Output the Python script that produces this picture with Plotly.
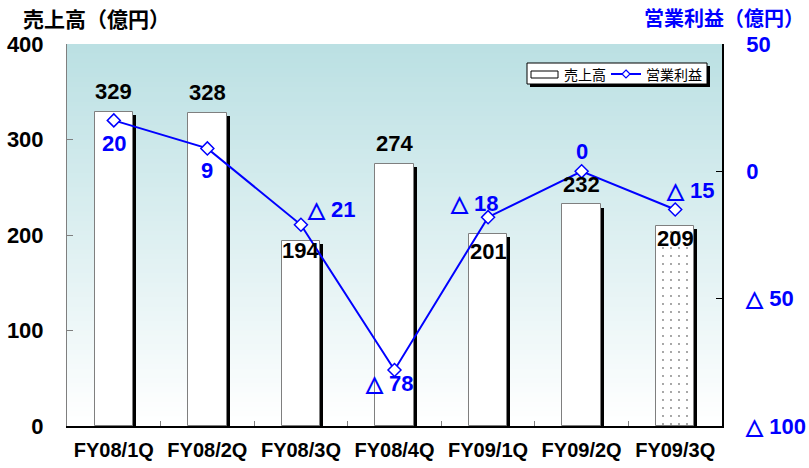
import plotly.graph_objects as go

categories = ["FY08/1Q", "FY08/2Q", "FY08/3Q", "FY08/4Q", "FY09/1Q", "FY09/2Q", "FY09/3Q"]
sales = [329, 328, 194, 274, 201, 232, 209]
op_profit = [20, 9, -21, -78, -18, 0, -15]
left_ticks = [0, 100, 200, 300, 400]
right_ticks = [50, 0, -50, -100]

def tri(v):
    return f"△ {abs(v)}" if v < 0 else f"{v}"

# style/layout constants
W, H = 809, 468
L, R, T, B = 67, 87, 44, 42
PW, PH = W - L - R, H - T - B
JP = "Noto Sans CJK JP"
AR = "Liberation Sans, Arial, sans-serif"
BLUE = "#0000FF"

def px(x):
    return (x - L) / PW

def py(y):
    return (H - B - y) / PH

bar_w = 0.41
shadow_dx = 3 / (PW / len(categories))

fig = go.Figure()

# bar shadows
fig.add_trace(go.Bar(
    x=categories, y=sales, base=-3.2, width=bar_w, offset=-bar_w / 2 + shadow_dx,
    marker=dict(color="black", line=dict(width=0)), hoverinfo="skip", showlegend=False,
))
# bars
fig.add_trace(go.Bar(
    x=categories, y=sales, width=bar_w, offset=-bar_w / 2,
    marker=dict(
        color="white", line=dict(color="#7f7f7f", width=1),
        pattern=dict(shape=[""] * (len(categories) - 1) + ["."], fgcolor="black",
                     bgcolor="white", size=8, solidity=0.04, fillmode="overlay"),
    ),
    showlegend=False,
))
# operating profit line
fig.add_trace(go.Scatter(
    x=categories, y=op_profit, yaxis="y2", mode="lines+markers",
    line=dict(color=BLUE, width=2),
    marker=dict(symbol="diamond", size=10, color="white", line=dict(color=BLUE, width=1.5)),
    showlegend=False,
))

annotations = []
bar_shift = [20, 20, -10, 21, -17, 20, -12]
for c, v, s in zip(categories, sales, bar_shift):
    annotations.append(dict(x=c, y=v, xref="x", yref="y", text=f"<b>{v}</b>", showarrow=False,
                            yshift=s, yanchor="middle",
                            font=dict(family=AR, size=22, color="black")))
op_shift = [(0, -23), (0, -22), (31, 15), (-5, -14), (-14, 14), (0, 20), (15, 19)]
for c, v, (dx, dy) in zip(categories, op_profit, op_shift):
    annotations.append(dict(x=c, y=v, xref="x", yref="y2", text=f"<b>{tri(v)}</b>", showarrow=False,
                            xshift=dx, yshift=dy, yanchor="middle",
                            font=dict(family=AR, size=22, color=BLUE)))

# axis titles
annotations.append(dict(x=px(21), y=py(18), xref="paper", yref="paper", xanchor="left", yanchor="middle",
                        text="<b>売上高（億円）</b>", showarrow=False, font=dict(family=JP, size=21, color="black")))
annotations.append(dict(x=px(806), y=py(18), xref="paper", yref="paper", xanchor="right", yanchor="middle",
                        text="<b>営業利益（億円）</b>", showarrow=False, font=dict(family=JP, size=20, color=BLUE)))

shapes = []
# gradient background
N = 80
top_c = (187, 224, 227)
for i in range(N):
    t = i / (N - 1)
    col = tuple(round(top_c[k] + (255 - top_c[k]) * t) for k in range(3))
    shapes.append(dict(type="rect", xref="paper", yref="paper", x0=0, x1=1,
                       y1=1 - i / N, y0=max(0, 1 - (i + 1) / N - 0.002), layer="below",
                       line=dict(width=0), fillcolor=f"rgb{col}"))

# legend (manual)
shapes.append(dict(type="rect", xref="paper", yref="paper", x0=px(530), x1=px(710), y0=py(87), y1=py(66),
                   fillcolor="black", line=dict(width=0)))
shapes.append(dict(type="rect", xref="paper", yref="paper", x0=px(527), x1=px(707), y0=py(84), y1=py(63),
                   fillcolor="white", line=dict(color="black", width=1)))
shapes.append(dict(type="rect", xref="paper", yref="paper", x0=px(531), x1=px(558), y0=py(78), y1=py(71),
                   fillcolor="white", line=dict(color="black", width=1)))
shapes.append(dict(type="line", xref="paper", yref="paper", x0=px(611), x1=px(641), y0=py(74), y1=py(74),
                   line=dict(color=BLUE, width=2)))
shapes.append(dict(type="path", xref="paper", yref="paper",
                   path=f"M {px(626)} {py(70)} L {px(630)} {py(74)} L {px(626)} {py(78)} L {px(622)} {py(74)} Z",
                   fillcolor="white", line=dict(color=BLUE, width=1.2)))
annotations.append(dict(x=px(562), y=py(74), xref="paper", yref="paper", xanchor="left", yanchor="middle",
                        text="売上高", showarrow=False, font=dict(family=JP, size=14, color="black")))
annotations.append(dict(x=px(644), y=py(74), xref="paper", yref="paper", xanchor="left", yanchor="middle",
                        text="営業利益", showarrow=False, font=dict(family=JP, size=14, color="black")))

fig.update_layout(
    width=W, height=H, margin=dict(l=L, r=R, t=T, b=B, pad=0, autoexpand=False),
    paper_bgcolor="white", plot_bgcolor="white",
    barmode="overlay", bargap=0,
    xaxis=dict(type="category", showline=True, linecolor="black", linewidth=1.5, mirror=False,
               ticks="inside", tickson="boundaries", ticklen=5, tickcolor="#7f7f7f",
               tickvals=categories, ticktext=[f"<b>{c}</b>" for c in categories],
               tickfont=dict(family=AR, size=20, color="black"), ticklabelstandoff=5,
               showgrid=False, zeroline=False, automargin=False),
    yaxis=dict(range=[0, 400], tickvals=left_ticks, ticktext=[f"<b>{v}</b>" for v in left_ticks],
               showline=True, linecolor="#7f7f7f", linewidth=1, ticks="inside", ticklen=6, tickcolor="#7f7f7f",
               tickfont=dict(family=AR, size=22, color="black"), ticklabelstandoff=18,
               showgrid=False, zeroline=False, automargin=False),
    yaxis2=dict(range=[-100, 50], overlaying="y", side="right", tickvals=right_ticks,
                ticktext=[f"<b>{tri(v)}</b>" for v in right_ticks],
                showline=True, linecolor="black", linewidth=1.5, ticks="inside", ticklen=6, tickcolor="black",
                tickfont=dict(family=AR, size=22, color=BLUE), ticklabelstandoff=18,
                showgrid=False, zeroline=False, automargin=False),
    shapes=shapes, annotations=annotations,
)
fig.write_html("out.html", config={"displayModeBar": False},
               post_script="document.body.style.margin='0px';")
